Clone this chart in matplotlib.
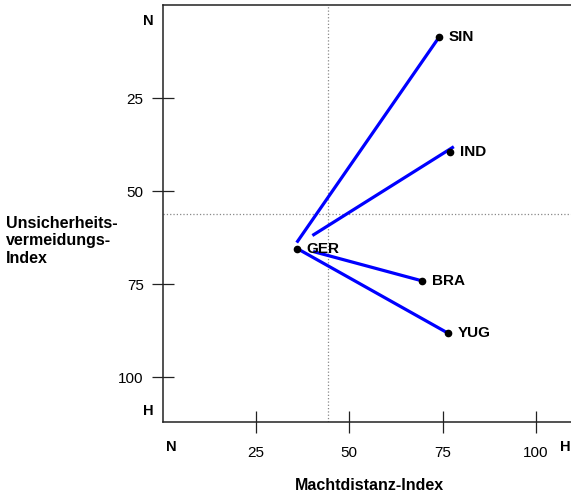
import matplotlib.pyplot as plt

plt.rcParams['font.family'] = ['Liberation Sans', 'DejaVu Sans']

# Hofstede-style country positions
countries = ['SIN', 'IND', 'GER', 'BRA', 'YUG']
pdi = [74, 77, 36, 69.5, 76.5]
uai = [8.6, 39.4, 65.5, 74.1, 88.2]

# blue connecting lines (start -> end)
line_x0 = [35.9, 40.1, 40.3, 36.2]
line_y0 = [63.8, 61.9, 66.2, 65.5]
line_x1 = [74.0, 78.0, 69.5, 76.5]
line_y1 = [8.6, 38.0, 74.1, 88.2]

# dotted reference cross
ref_x = 44.2
ref_y = 56.1

ticks = [25, 50, 75, 100]
tick_labels = ['25', '50', '75', '100']

fig = plt.figure(figsize=(5.71, 4.95), dpi=100)
ax = fig.add_axes([0.285, 0.148, 0.715, 0.841])
ax.set_xlim(0, 109.4)
ax.set_ylim(112, 0)

ax.axvline(ref_x, color='#888888', linestyle=':', linewidth=0.9)
ax.axhline(ref_y, color='#888888', linestyle=':', linewidth=0.9)

for x0, y0, x1, y1 in zip(line_x0, line_y0, line_x1, line_y1):
    ax.plot([x0, x1], [y0, y1], color='#0000ff', linewidth=2.3, solid_capstyle='butt', zorder=3)

ax.plot(pdi, uai, 'o', color='black', markersize=4.5, zorder=4)
for name, x, y in zip(countries, pdi, uai):
    ax.annotate(name, (x, y), xytext=(7, 0), textcoords='offset points',
                fontsize=11, fontweight='bold', va='center', ha='left')

ax.set_xticks(ticks)
ax.set_xticklabels(tick_labels)
ax.set_yticks(ticks)
ax.set_yticklabels(tick_labels)
ax.tick_params(axis='both', direction='inout', length=15.8, width=0.9, color='#222222', labelsize=11)
ax.tick_params(axis='y', pad=5.8)
ax.tick_params(axis='x', pad=9.3)

ax.spines['right'].set_visible(False)
for s in ['left', 'bottom', 'top']:
    ax.spines[s].set_linewidth(1.1)
    ax.spines[s].set_color('#222222')

# end labels
fig.text(148 / 571, 1 - 21 / 495, 'N', fontsize=10.5, fontweight='bold', ha='center', va='center')
fig.text(148 / 571, 1 - 410.7 / 495, 'H', fontsize=10.5, fontweight='bold', ha='center', va='center')
fig.text(171.7 / 571, 1 - 447 / 495, 'N', fontsize=10.5, fontweight='bold', ha='center', va='center')
fig.text(565.5 / 571, 1 - 446.7 / 495, 'H', fontsize=10.5, fontweight='bold', ha='center', va='center')

fig.text(369 / 571, 1 - 485 / 495, 'Machtdistanz-Index', fontsize=11.5, fontweight='bold',
         ha='center', va='center')
fig.text(6 / 571, 1 - 241 / 495, 'Unsicherheits-\nvermeidungs-\nIndex', fontsize=11.5,
         fontweight='bold', ha='left', va='center', linespacing=1.22)

fig.savefig('out.png', dpi=100)
